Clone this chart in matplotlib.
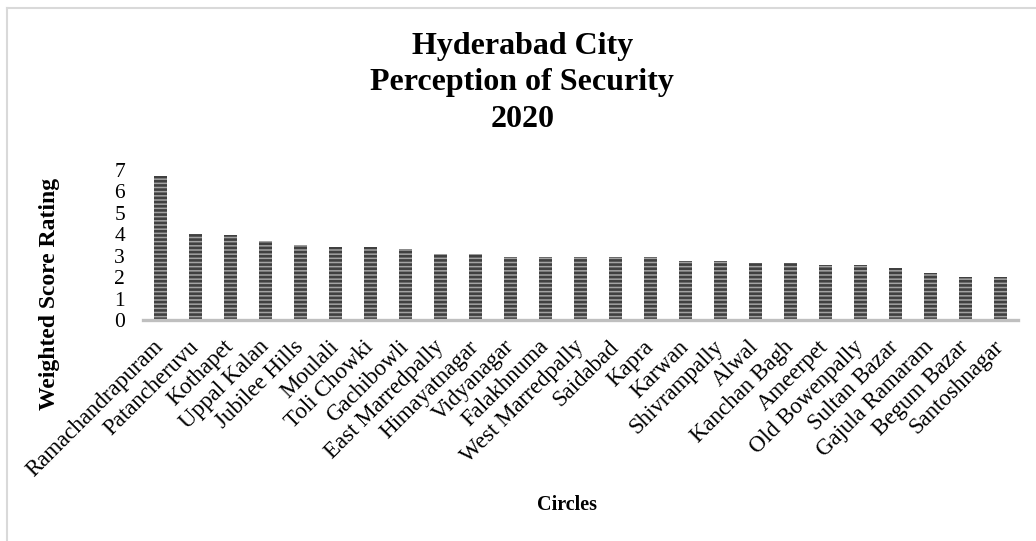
import matplotlib
matplotlib.use("Agg")
import matplotlib.pyplot as plt
from matplotlib.lines import Line2D

plt.rcParams['font.family'] = ['Liberation Serif', 'DejaVu Serif']
plt.rcParams['hatch.linewidth'] = 1.9

circles = ["Ramachandrapuram", "Patancheruvu", "Kothapet", "Uppal Kalan", "Jubilee Hills",
           "Moulali", "Toli Chowki", "Gachibowli", "East Marredpally", "Himayatnagar",
           "Vidyanagar", "Falakhnuma", "West Marredpally", "Saidabad", "Kapra",
           "Karwan", "Shivrampally", "Alwal", "Kanchan Bagh", "Ameerpet",
           "Old Bowenpally", "Sultan Bazar", "Gajula Ramaram", "Begum Bazar", "Santoshnagar"]
scores = [6.7, 4.0, 3.95, 3.7, 3.5,
          3.4, 3.4, 3.3, 3.1, 3.1,
          2.95, 2.95, 2.95, 2.95, 2.95,
          2.75, 2.75, 2.65, 2.65, 2.55,
          2.55, 2.45, 2.2, 2.0, 2.0]
yticks = [0, 1, 2, 3, 4, 5, 6, 7]

fig = plt.figure(figsize=(10.36, 5.41), dpi=100)
ax = fig.add_axes([143/1036, 1-320/541, (1018-143)/1036, (320-170)/541])

x = list(range(len(circles)))
ax.bar(x, scores, width=0.37, color='#a3a3a3', edgecolor='#404040', linewidth=0, hatch='----')

ax.set_xlim(-0.5, len(circles)-0.5)
ax.set_ylim(0, 7)
ax.set_yticks(yticks)
ax.set_yticklabels([str(t) for t in yticks], fontsize=15.5)
ax.set_xticks(x)
ax.set_xticklabels(circles, rotation=45, ha='right', va='center', rotation_mode='anchor', fontsize=16.5)
ax.tick_params(axis='both', length=0)
ax.tick_params(axis='y', pad=13)
ax.tick_params(axis='x', pad=17)
for s in ['top', 'right', 'left']:
    ax.spines[s].set_visible(False)
ax.spines['bottom'].set_color('#bfbfbf')
ax.spines['bottom'].set_linewidth(2.4)

fig.text(0.504, 1-83/541, "Hyderabad City\nPerception of Security\n2020", ha='center', va='center',
         fontsize=23, fontweight='bold', linespacing=1.33)
fig.text(50/1036, 1-294/541, "Weighted Score Rating", rotation=90, ha='center', va='center',
         fontsize=17, fontweight='bold')
fig.text(567/1036, 1-505/541, "Circles", ha='center', va='center', fontsize=14.5, fontweight='bold')

# chart border (top and left visible)
fig.add_artist(Line2D([7/1036, 1], [1-8/541, 1-8/541], transform=fig.transFigure, color='#d9d9d9', lw=1.5))
fig.add_artist(Line2D([7/1036, 7/1036], [0, 1-8/541], transform=fig.transFigure, color='#d9d9d9', lw=1.5))

fig.savefig("out.png", dpi=100)
